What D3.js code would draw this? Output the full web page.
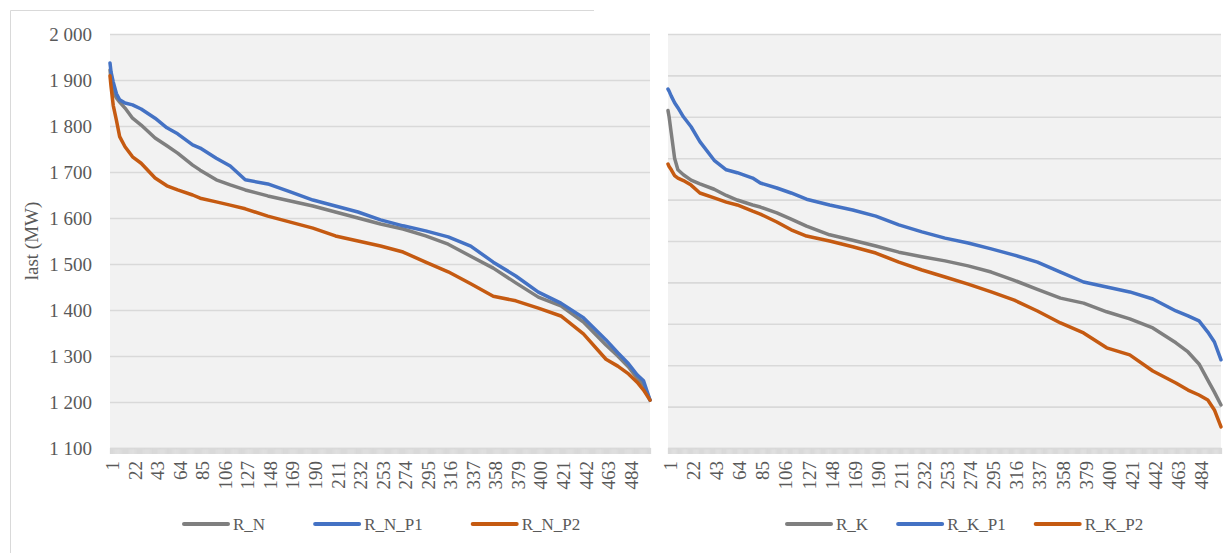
<!DOCTYPE html>
<html>
<head>
<meta charset="utf-8">
<script src="https://cdn.jsdelivr.net/npm/d3@7"></script>
<style>
  body { margin: 0; background: #fff; }
</style>
</head>
<body>
<svg id="chart"></svg>
<script>
// hours sorted by load at these positions
const categoryCount = 504;
const sampleCats = [1, 2, 4, 7, 10, 15, 22, 30, 43, 54, 64, 78, 85, 100, 113, 127, 148, 169, 190, 211,
  232, 253, 274, 295, 316, 337, 358, 379, 400, 421, 442, 463, 474, 484, 492, 498, 504];

const R_N = [1922, 1900, 1874, 1861, 1852, 1839, 1817, 1802, 1774, 1757, 1741, 1715, 1704, 1683, 1672, 1661, 1648, 1637, 1626, 1613,
  1600, 1587, 1576, 1561, 1543, 1517, 1491, 1459, 1428, 1409, 1374, 1324, 1300, 1276, 1252, 1237, 1204];
const R_N_P1 = [1937, 1917, 1896, 1870, 1857, 1850, 1846, 1837, 1817, 1796, 1783, 1759, 1752, 1730, 1713, 1683, 1674, 1657, 1639, 1626,
  1613, 1596, 1583, 1572, 1559, 1539, 1504, 1474, 1439, 1415, 1383, 1335, 1307, 1283, 1259, 1246, 1204];
const R_N_P2 = [1909, 1885, 1845, 1812, 1777, 1755, 1733, 1719, 1687, 1670, 1661, 1650, 1643, 1635, 1628, 1620, 1604, 1591, 1578, 1561,
  1550, 1539, 1526, 1504, 1483, 1457, 1430, 1420, 1404, 1387, 1348, 1293, 1278, 1261, 1243, 1226, 1204];

const R_K = [1815, 1800, 1760, 1700, 1672, 1660, 1647, 1638, 1625, 1610, 1599, 1587, 1582, 1568, 1553, 1536, 1515, 1502, 1488, 1473,
  1462, 1452, 1440, 1425, 1405, 1383, 1362, 1350, 1329, 1312, 1290, 1254, 1232, 1203, 1164, 1135, 1104];
const R_K_P1 = [1867, 1862, 1850, 1834, 1822, 1800, 1776, 1740, 1695, 1672, 1665, 1652, 1640, 1628, 1616, 1601, 1587, 1575, 1560, 1539,
  1522, 1507, 1495, 1481, 1466, 1449, 1425, 1401, 1389, 1377, 1360, 1331, 1319, 1307, 1280, 1256, 1213];
const R_K_P2 = [1686, 1680, 1672, 1658, 1652, 1646, 1635, 1616, 1604, 1594, 1587, 1572, 1565, 1546, 1527, 1512, 1500, 1486, 1471, 1449,
  1430, 1413, 1396, 1377, 1357, 1331, 1302, 1278, 1242, 1225, 1186, 1157, 1140, 1128, 1116, 1092, 1051];

const xTickStep = 21;
const yStep = 100;

const width = 1223, height = 553;
const plotTop = 34, plotBottom = 448;
const font = "'Liberation Serif', 'Times New Roman', serif";
const textColor = '#595959';
const gridColor = '#d9d9d9';
const colors = { base: '#7f7f7f', p1: '#4472c4', p2: '#c55a11' };

const svg = d3.select('#chart').attr('width', width).attr('height', height);

// thin frame of the left chart object
svg.append('path')
  .attr('d', 'M10.5,553V10.5H594')
  .attr('fill', 'none')
  .attr('stroke', gridColor);

const fmt = d3.formatLocale({ decimal: ',', thousands: ' ', grouping: [3], currency: ['', ''] }).format(',');

const panels = [
  { left: 110, right: 650, yDomain: [1100, 2000], showY: true, legendX: 184, legendGap: 50,
    series: [
      { name: 'R_N', values: R_N, color: colors.base },
      { name: 'R_N_P1', values: R_N_P1, color: colors.p1 },
      { name: 'R_N_P2', values: R_N_P2, color: colors.p2 }
    ] },
  { left: 668, right: 1221, yDomain: [1000, 2000], showY: false, legendX: 787, legendGap: 30,
    series: [
      { name: 'R_K', values: R_K, color: colors.base },
      { name: 'R_K_P1', values: R_K_P1, color: colors.p1 },
      { name: 'R_K_P2', values: R_K_P2, color: colors.p2 }
    ] }
];

panels.forEach(p => {
  const w = p.right - p.left;
  const x = d3.scaleLinear().domain([1, categoryCount]).range([p.left, p.right]);
  const y = d3.scaleLinear().domain(p.yDomain).range([plotBottom, plotTop]);
  const g = svg.append('g');

  g.append('rect')
    .attr('x', p.left).attr('y', plotTop)
    .attr('width', w).attr('height', plotBottom - plotTop)
    .attr('fill', '#f2f2f2');

  // gridlines + y labels
  const yTicks = d3.range(p.yDomain[0], p.yDomain[1] + 1, yStep);
  g.append('g')
    .attr('transform', `translate(${p.left},0)`)
    .call(d3.axisLeft(y).tickValues(yTicks).tickSize(-w).tickPadding(18)
      .tickFormat(p.showY ? fmt : ''))
    .call(a => a.select('.domain').remove())
    .call(a => a.selectAll('.tick line').attr('stroke', gridColor).attr('stroke-width', 1.6))
    .call(a => a.selectAll('.tick text')
      .attr('fill', textColor)
      .style('font-family', font)
      .style('font-size', '19px'));

  // category axis: a tick on every category makes the grey band
  g.append('g')
    .attr('transform', `translate(0,${plotBottom})`)
    .call(d3.axisBottom(x).tickValues(d3.range(1, categoryCount + 1)).tickSize(6).tickSizeOuter(0).tickFormat(''))
    .call(a => a.select('.domain').attr('stroke', gridColor).attr('stroke-width', 1.6))
    .call(a => a.selectAll('.tick line').attr('stroke', gridColor).attr('stroke-width', 1.3));

  g.append('g')
    .attr('transform', `translate(0,${plotBottom})`)
    .call(d3.axisBottom(x).tickValues(d3.range(1, categoryCount, xTickStep)).tickSize(0))
    .call(a => a.select('.domain').remove())
    .call(a => a.selectAll('.tick text')
      .attr('transform', 'rotate(-90)')
      .attr('x', -13).attr('y', 0).attr('dy', '0.45em')
      .attr('text-anchor', 'end')
      .attr('fill', textColor)
      .style('font-family', font)
      .style('font-size', '19px'));

  const line = d3.line()
    .x((d, i) => x(sampleCats[i]))
    .y(d => y(d));

  p.series.forEach(s => {
    g.append('path')
      .datum(s.values)
      .attr('fill', 'none')
      .attr('stroke', s.color)
      .attr('stroke-width', 3.5)
      .attr('stroke-linejoin', 'round')
      .attr('stroke-linecap', 'round')
      .attr('d', line);
  });

  // legend
  let lx = p.legendX;
  p.series.forEach(s => {
    g.append('line')
      .attr('x1', lx).attr('x2', lx + 44)
      .attr('y1', 524).attr('y2', 524)
      .attr('stroke', s.color).attr('stroke-width', 4)
      .attr('stroke-linecap', 'round');
    const t = g.append('text')
      .attr('x', lx + 49).attr('y', 524).attr('dy', '0.35em')
      .attr('fill', textColor)
      .style('font-family', font)
      .style('font-size', '17px')
      .text(s.name);
    lx += 49 + t.node().getComputedTextLength() + p.legendGap;
  });
});

svg.append('text')
  .attr('transform', `translate(31,${(plotTop + plotBottom) / 2}) rotate(-90)`)
  .attr('text-anchor', 'middle')
  .attr('dy', '0.35em')
  .attr('fill', textColor)
  .style('font-family', font)
  .style('font-size', '19px')
  .text('last (MW)');
</script>
</body>
</html>
